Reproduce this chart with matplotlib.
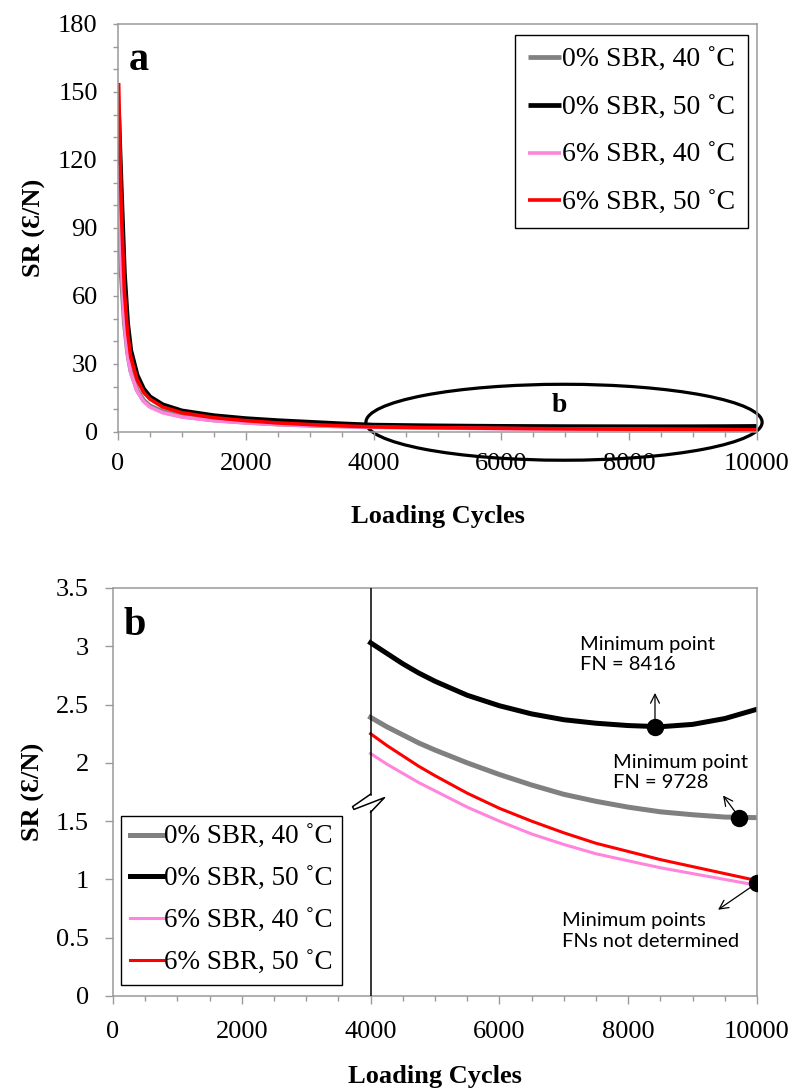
import matplotlib
matplotlib.use("Agg")
import matplotlib.pyplot as plt
import matplotlib.transforms as mtransforms
from matplotlib.patches import Ellipse
from matplotlib.ticker import MultipleLocator

# Loading cycles and strain rate (SR) for each mix / temperature
cycles = [10, 50, 100, 150, 200, 300, 400, 500, 700, 1000, 1500, 2000, 2500, 3000, 3500,
          4000, 4250, 4500, 4750, 5000, 5500, 6000, 6500, 7000, 7500, 8000, 8500, 9000,
          9500, 10000]
sr_0_40 = [100, 70, 48, 35, 27, 18.5, 14, 11.5, 9, 7, 5.3, 4.3, 3.5, 3.0, 2.65,
           2.39, 2.31, 2.24, 2.17, 2.11, 2.00, 1.90, 1.81, 1.73, 1.67, 1.62, 1.58, 1.555,
           1.535, 1.53]
sr_0_50 = [140, 108, 70, 48, 36, 25, 19, 15.5, 12, 9.3, 7.2, 5.9, 5.0, 4.3, 3.6,
           3.03, 2.94, 2.85, 2.77, 2.70, 2.58, 2.49, 2.42, 2.37, 2.34, 2.32, 2.31, 2.33,
           2.38, 2.46]
sr_6_40 = [118, 75, 48, 34, 26, 18, 13.5, 11, 8.5, 6.6, 5.0, 4.0, 3.3, 2.8, 2.4,
           2.08, 1.99, 1.91, 1.83, 1.76, 1.62, 1.50, 1.39, 1.30, 1.22, 1.16, 1.10, 1.05,
           1.00, 0.95]
sr_6_50 = [154, 100, 62, 44, 33, 23, 17.5, 14.5, 11, 8.5, 6.3, 5.0, 4.0, 3.3, 2.7,
           2.25, 2.15, 2.06, 1.97, 1.89, 1.74, 1.61, 1.50, 1.40, 1.31, 1.24, 1.17, 1.11,
           1.05, 0.99]

labels = ["0% SBR, 40 \u02daC", "0% SBR, 50 \u02daC", "6% SBR, 40 \u02daC", "6% SBR, 50 \u02daC"]

# Minimum points (flow number) marked on panel b
min_cycles = [8416, 9728, 10000]
min_sr = [2.31, 1.53, 0.97]

series = [sr_0_40, sr_0_50, sr_6_40, sr_6_50]
colors = ["#808080", "#000000", "#ff85dc", "#ff0000"]
widths_a = [3.4, 3.4, 2.6, 2.6]
widths_b = [3.6, 3.6, 2.2, 2.2]

SERIF = ["Liberation Serif", "DejaVu Serif"]
SANS = ["Lato", "DejaVu Sans"]
GRID_GREY = "#9a9a9a"

W, H = 795, 1091
fig = plt.figure(figsize=(W / 100, H / 100), dpi=100)


def style_axes(ax, tick_len_y, pad_y, pad_x):
    for s in ax.spines.values():
        s.set_color(GRID_GREY)
        s.set_linewidth(1.1)
    ax.tick_params(axis="both", which="both", direction="out", color=GRID_GREY, width=1.0)
    ax.tick_params(axis="y", which="both", length=tick_len_y, pad=pad_y)
    ax.tick_params(axis="x", which="major", length=5.8, pad=pad_x)
    ax.tick_params(axis="x", which="minor", length=3.6)
    for lab in ax.get_xticklabels() + ax.get_yticklabels():
        lab.set_fontfamily(SERIF)
        lab.set_fontsize(19)


# ---------------- panel a ----------------
ax1 = fig.add_axes([118 / W, 1 - 432 / H, 639 / W, 408 / H])
lines = []
for ys, c, lw, lab in zip(series, colors, widths_a, labels):
    ln, = ax1.plot(cycles, ys, color=c, lw=lw, label=lab, solid_capstyle="butt")
    lines.append(ln)
ax1.set_xlim(0, 10000)
ax1.set_ylim(0, 180)
ax1.xaxis.set_major_locator(MultipleLocator(2000))
ax1.xaxis.set_minor_locator(MultipleLocator(500))
ax1.yaxis.set_major_locator(MultipleLocator(30))
ax1.yaxis.set_minor_locator(MultipleLocator(10))
style_axes(ax1, 3.6, 11.0, 9.0)
ax1.set_xlabel("Loading Cycles", fontfamily=SERIF, fontsize=19, fontweight="bold")
ax1.set_ylabel("SR (\u0190/N)", fontfamily=SERIF, fontsize=19, fontweight="bold")
ax1.xaxis.set_label_coords(0.5, -0.18)
ax1.yaxis.set_label_coords(-0.113, 0.5)
ax1.text(0.017, 0.887, "a", transform=ax1.transAxes, fontfamily=SERIF,
         fontsize=29, fontweight="bold", va="baseline", ha="left")

ax1.add_patch(Ellipse((6980, 4.3), 6200, 33.5, fill=False, ec="black", lw=2.3, clip_on=False))
ax1.text(6900, 8.8, "b", fontfamily=SERIF, fontsize=20, fontweight="bold",
         ha="center", va="baseline")

leg1 = ax1.legend(handles=lines, loc="upper right", bbox_to_anchor=(748 / W, 1 - 35 / H),
                  bbox_transform=fig.transFigure, prop={"family": SERIF, "size": 20},
                  frameon=True, fancybox=False, edgecolor="black", framealpha=1,
                  handlelength=1.2, handletextpad=0.05, labelspacing=0.8,
                  borderpad=0.45, borderaxespad=0)
leg1.get_frame().set_linewidth(1.0)

# ---------------- panel b ----------------
ax2 = fig.add_axes([113 / W, 1 - 996 / H, 644 / W, 408 / H])
start = cycles.index(4000)
lines2 = []
for ys, c, lw, lab in zip(series, colors, widths_b, labels):
    ln, = ax2.plot(cycles[start:], ys[start:], color=c, lw=lw, label=lab)
    lines2.append(ln)
ax2.plot(min_cycles, min_sr, "o", color="black", ms=11.5, zorder=5)
ax2.set_xlim(0, 10000)
ax2.set_ylim(0, 3.5)
ax2.xaxis.set_major_locator(MultipleLocator(2000))
ax2.xaxis.set_minor_locator(MultipleLocator(500))
ax2.set_yticks([0, 0.5, 1, 1.5, 2, 2.5, 3, 3.5])
ax2.set_yticklabels(["0", "0.5", "1", "1.5", "2", "2.5", "3", "3.5"])
style_axes(ax2, 5.8, 11.5, 12.5)
ax2.set_xlabel("Loading Cycles", fontfamily=SERIF, fontsize=19, fontweight="bold")
ax2.set_ylabel("SR (\u0190/N)", fontfamily=SERIF, fontsize=19, fontweight="bold")
ax2.xaxis.set_label_coords(0.5, -0.168)
ax2.yaxis.set_label_coords(-0.105, 0.5)
ax2.text(0.017, 0.885, "b", transform=ax2.transAxes, fontfamily=SERIF,
         fontsize=29, fontweight="bold", va="baseline", ha="left")

# axis-break line at 4000 cycles with a zigzag symbol
brk_y = 1.66
ax2.plot([4000, 4000], [brk_y + 0.065, 3.5], color="black", lw=1.1, zorder=3)
ax2.plot([4000, 4000], [0, brk_y - 0.07], color="black", lw=1.1, zorder=3)
zig_pts = [(0, 6.0), (-13, -3.0), (-12, -5.0), (10, 3.5), (0, -7.0)]
zx = [p[0] for p in zig_pts]
zy = [p[1] for p in zig_pts]
pt_tr = mtransforms.Affine2D().scale(fig.dpi / 72) + mtransforms.Affine2D().translate(
    *ax2.transData.transform((4000, brk_y)))
ax2.plot(zx, zy, color="black", lw=1.1, transform=pt_tr, clip_on=False, zorder=3)

# minimum point annotations
ann_font = {"family": SANS, "size": 14.5}
ax2.text(7252, 3.09, "Minimum point\nFN = 8416", fontdict=ann_font, ha="left", va="top",
         linespacing=1.25)
ax2.text(7765, 2.08, "Minimum point\nFN = 9728", fontdict=ann_font, ha="left", va="top",
         linespacing=1.25)
ax2.text(6973, 0.72, "Minimum points\nFNs not determined", fontdict=ann_font, ha="left",
         va="top", linespacing=1.25)
arrow_kw = dict(arrowstyle="->", lw=0.9, color="black", shrinkA=0, shrinkB=0,
                mutation_scale=16)
ax2.annotate("", xy=(8416, 2.60), xytext=(min_cycles[0], min_sr[0]), arrowprops=arrow_kw)
ax2.annotate("", xy=(9473, 1.72), xytext=(min_cycles[1], min_sr[1]), arrowprops=arrow_kw)
ax2.annotate("", xy=(9395, 0.74), xytext=(min_cycles[2], min_sr[2]), arrowprops=arrow_kw)

leg2 = ax2.legend(handles=lines2, loc="lower left", bbox_to_anchor=(121 / W, 1 - 985 / H),
                  bbox_transform=fig.transFigure, prop={"family": SERIF, "size": 19.5},
                  frameon=True, fancybox=False, edgecolor="black", framealpha=1,
                  handlelength=1.2, handletextpad=0.05, labelspacing=0.62,
                  borderpad=0.35, borderaxespad=0)
leg2.get_frame().set_linewidth(1.0)
leg2.set_zorder(6)

fig.savefig("out.png", dpi=100)
